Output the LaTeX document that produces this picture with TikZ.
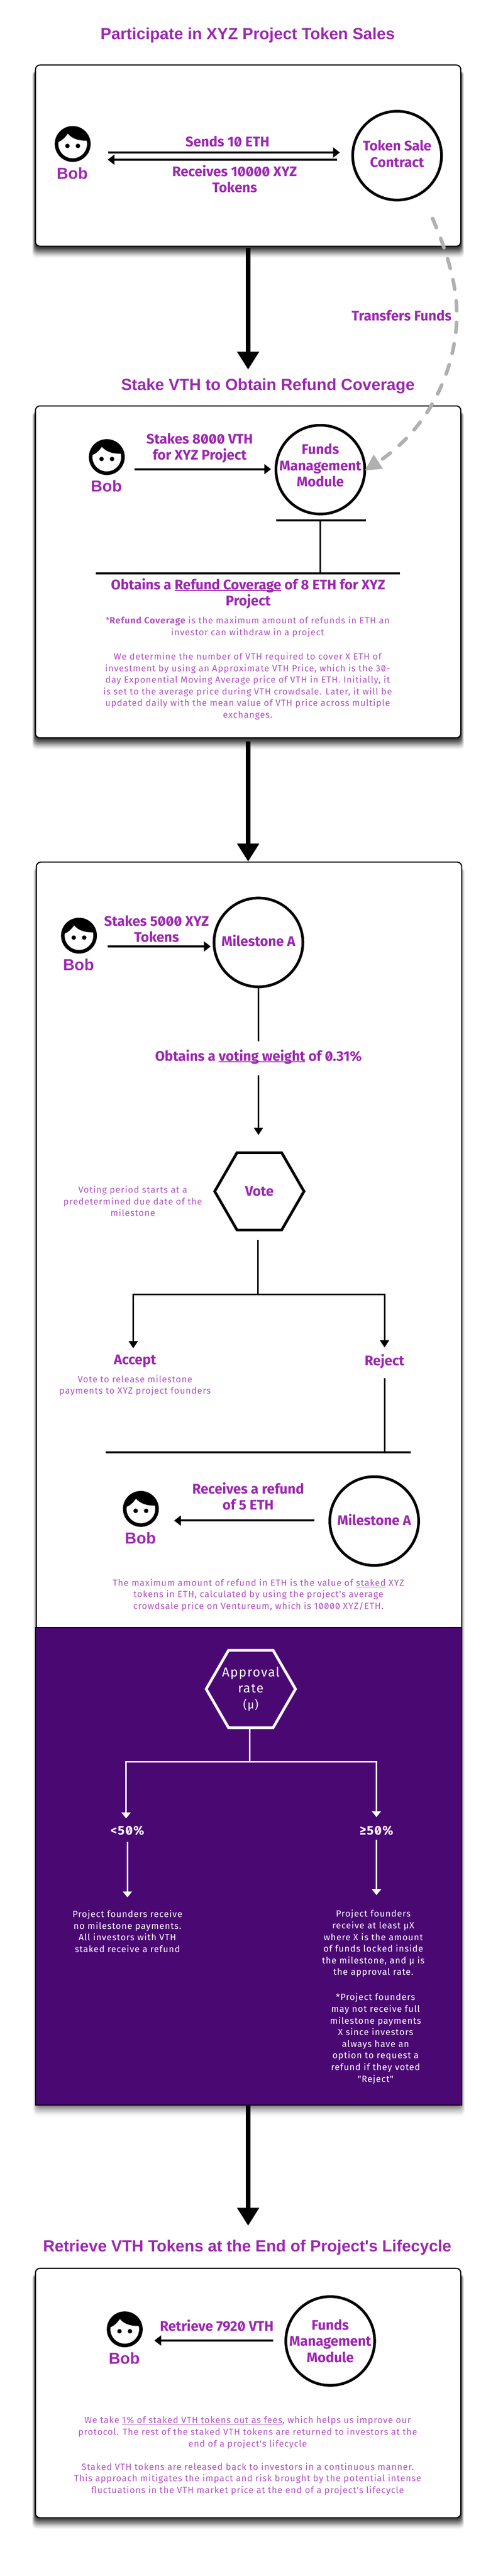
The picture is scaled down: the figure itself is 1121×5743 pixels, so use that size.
\documentclass[tikz,border=0pt]{standalone}
\usepackage{fontspec}
\setmainfont[Numbers=SlashedZero]{Fira Sans}
\newfontfamily\headfont{Liberation Sans}
\newfontfamily\notefont[LetterSpace=6,Numbers=SlashedZero]{Fira Sans}
\usetikzlibrary{calc,shapes.geometric,arrows.meta}

\definecolor{headpurple}{HTML}{9C27B0}
\definecolor{notepurple}{HTML}{B052C0}
\definecolor{panelpurple}{HTML}{4A0873}
\definecolor{flowgrey}{HTML}{B0B0B0}

%% soft shadow behind a box: x0, y0, x1, y1, opacity
\newcommand{\boxshadow}[5]{%
  \foreach \s [evaluate=\s as \shade using {#5*(17-\s)/8}] in {1,...,16}
  {
    \fill[black,opacity=\shade,rounded corners=10pt] ({#1-0.5*\s},{#2+12}) rectangle ({#3+0.5*\s},{#4+2+1.6*\s});
  }
}
%% underline with a rule of given depth and thickness
\newcommand{\barunder}[3]{\setbox0\hbox{#3}\rlap{\rule[-#1]{\wd0}{#2}}\box0\relax}

\begin{document}
\begin{tikzpicture}[x=1pt,y=-1pt,
    stagehead/.style={inner sep=0,text=headpurple,font=\headfont\bfseries\fontsize{36}{40}\selectfont},
    steplabel/.style={inner sep=0,align=center,text=headpurple,font=\bfseries\fontsize{31}{36}\selectfont},
    notetext/.style={inner sep=0,align=center,text=notepurple,font=\notefont\fontsize{20}{26}\selectfont},
    paneltext/.style={inner sep=0,align=center,text=white,font=\notefont\fontsize{20}{26}\selectfont},
    ratetext/.style={inner sep=0,align=center,text=white,font=\notefont\fontsize{29}{36}\selectfont},
    stagebox/.style={draw=black,fill=white,line width=2.5pt,rounded corners=10pt,inner sep=0},
    partycircle/.style={circle,draw=black,fill=white,line width=6pt,minimum size=198pt,inner sep=0},
    bobface/.style={circle,draw=black,fill=white,line width=8pt,minimum size=72pt,inner sep=0},
    votehex/.style={regular polygon,regular polygon sides=6,line width=6pt,minimum size=199pt,inner sep=0},
    bigarrow/.style={line width=9.5pt,-{Triangle[length=40pt,width=47pt]}},
    flowarrow/.style={line width=4.5pt,-{Triangle[length=15pt,width=22pt]}},
    thinarrow/.style={line width=3.5pt,-{Triangle[length=16pt,width=20pt]}},
    whitearrow/.style={draw=white,line width=3.5pt,-{Triangle[length=13pt,width=20pt]}}]

  \useasboundingbox (0,0) rectangle (1121,5743);

  %% Stage boxes
  \boxshadow{79}{145}{1027}{549}{0.08}
  \boxshadow{79}{905}{1027}{1645}{0.08}
  \boxshadow{81}{1922}{1029}{4693}{0.035}
  \boxshadow{79}{5057}{1027}{5612}{0.08}
  \node[stagebox,minimum width=948pt,minimum height=404pt] (saleBox) at (553,347) {};
  \node[stagebox,minimum width=948pt,minimum height=740pt] (stakeBox) at (553,1275) {};
  \node[stagebox,minimum width=948pt,minimum height=1760pt] (voteBox) at (555,2802) {};
  \node[draw=black,line width=2.5pt,fill=panelpurple,minimum width=950pt,minimum height=1065pt,inner sep=0] (ratePanel) at (554,4161) {};
  \node[stagebox,minimum width=948pt,minimum height=556pt] (retrieveBox) at (553,5335) {};

  %% Stage titles
  \node[stagehead] (saleTitle) at (552,79) {Participate in XYZ Project Token Sales};
  \node[stagehead] (stakeTitle) at (597,861) {Stake VTH to Obtain Refund Coverage};
  \node[stagehead] (retrieveTitle) at (551,5011) {Retrieve VTH Tokens at the End of Project's Lifecycle};

  %% Every Bob in the picture
  \foreach \n/\x/\y in {A/162/321,B/238/1019,C/176/2086,D/314/3364,E/278/5193}
  {
    \node[bobface] (bob\n) at (\x,\y) {};
    \fill[shift={(\x,\y)}] (-37,-3) .. controls (-31,-30) and (-14,-39) .. (0,-39)
      .. controls (16,-39) and (33,-28) .. (38,-8) .. controls (18,-6) and (0,-10) .. (-11,-23)
      .. controls (-17,-14) and (-25,-6) .. (-37,-3) -- cycle;
    \fill[shift={(\x,\y)}] (-11.7,4.3) circle (5pt) (11.7,4.3) circle (5pt);
    \node[inner sep=0,text=headpurple,font=\headfont\bfseries\fontsize{35.5}{36}\selectfont] (bobName\n) at ($(bob\n)+(-1,65)$) {Bob};
  }

  %% Token sale
  \node[partycircle,label={[steplabel,yshift=4pt]center:Token Sale\\Contract}] (tokenSale) at (885,347) {};
  \coordinate (sendFrom) at (241,340);
  \coordinate (backFrom) at (751,356);
  \draw[flowarrow,shorten >=25.5pt] (sendFrom) -- (sendFrom -| tokenSale.west);
  \draw[flowarrow,shorten >=38pt] (backFrom) -- (backFrom -| bobA.east);
  \node[steplabel] (sendLabel) at (507,315) {Sends 10 ETH};
  \node[steplabel] (backLabel) at (523,399) {Receives 10000 XYZ\\Tokens};
  \node[steplabel] (transferLabel) at (895,703) {Transfers Funds};

  %% Stake VTH
  \node[partycircle,label={[steplabel,yshift=9.5pt]center:Funds\\Management\\Module}] (fundsModule) at (714,1047) {};
  \coordinate (stakeFrom) at (300,1046);
  \draw[flowarrow,shorten >=8pt] (stakeFrom) -- (stakeFrom -| fundsModule.west);
  \node[steplabel] (stakeLabel) at (445,999) {Stakes 8000 VTH\\for XYZ Project};
  \coordinate (coverTop) at (714,1160);
  \coordinate (coverBottom) at (714,1278);
  \draw[line width=4.5pt] (616,1160) -- (coverTop) -- (815,1160);
  \draw[line width=3.5pt] (coverTop) -- (coverBottom);
  \draw[line width=4.5pt] (214,1278) -- (coverBottom) -- (891,1278);
  \node[steplabel] (coverLabel) at (553,1323) {Obtains a \barunder{3.5pt}{2.5pt}{Refund Coverage} of 8 ETH for XYZ\\Project};
  \node[notetext] (coverNote) at (552,1398) {*{\bfseries Refund Coverage} is the maximum amount of refunds in ETH an\\investor can withdraw in a project};
  \node[notetext] (priceNote) at (552,1530) {We determine the number of VTH required to cover X ETH of\\investment by using an Approximate VTH Price, which is the 30-\\day Exponential Moving Average price of VTH in ETH. Initially, it\\is set to the average price during VTH crowdsale. Later, it will be\\updated daily with the mean value of VTH price across multiple\\exchanges.};

  %% Milestone vote
  \node[partycircle,label={[steplabel,yshift=4pt]center:Milestone A}] (milestoneIn) at (576,2101) {};
  \coordinate (voteStake) at (240,2110);
  \draw[flowarrow,shorten >=4.5pt] (voteStake) -- (voteStake -| milestoneIn.west);
  \node[steplabel] (voteStakeLabel) at (349,2071) {Stakes 5000 XYZ\\Tokens};
  \node[steplabel] (weightLabel) at (576,2356) {Obtains a \barunder{3.5pt}{2.5pt}{voting weight} of 0.31\%};
  \draw[line width=3pt,shorten >=18pt] (milestoneIn.south) -- (milestoneIn.south |- weightLabel.north);
  \node[votehex,draw=black,text=headpurple,font=\bfseries\fontsize{31}{36}\selectfont] (vote) at (578,2656) {Vote};
  \draw[thinarrow,line width=3pt,shorten <=25pt,shorten >=36.5pt] (milestoneIn.south |- weightLabel.south) -- (milestoneIn.south |- vote.north);
  \node[notetext] (voteNote) at (296,2678) {Voting period starts at a\\predetermined due date of the\\milestone};

  \coordinate (voteSplit) at (575,2886);
  \draw[line width=3.5pt,shorten <=20pt] (voteSplit |- vote.south) -- (voteSplit);
  \node[steplabel] (accept) at (301,3035) {Accept};
  \node[steplabel] (reject) at (857,3035) {Reject};
  \coordinate (acceptIn) at (297,3006);
  \coordinate (rejectIn) at (857,3004);
  \draw[thinarrow] (voteSplit) -| (acceptIn);
  \draw[thinarrow] (voteSplit) -| (rejectIn);
  \node[notetext] (acceptNote) at (301,3089) {Vote to release milestone\\payments to XYZ project founders};

  \coordinate (refundBar) at (857,3238);
  \draw[line width=3.5pt,shorten <=21pt] (reject.south) -- (refundBar);
  \draw[line width=4.5pt] (236,3238) -- (refundBar) -- (915,3238);
  \node[partycircle,label={[steplabel,yshift=3pt]center:Milestone A}] (milestoneOut) at (834,3391) {};
  \coordinate (refundFrom) at (701,3390);
  \draw[flowarrow,shorten >=34pt] (refundFrom) -- (refundFrom -| bobD.east);
  \node[steplabel] (refundLabel) at (553,3336) {Receives a refund\\of 5 ETH};
  \node[notetext] (refundNote) at (576,3556) {The maximum amount of refund in ETH is the value of \barunder{3pt}{1.5pt}{staked} XYZ\\tokens in ETH, calculated by using the project's average\\crowdsale price on Ventureum, which is 10000 XYZ/ETH.};

  %% Approval rate panel
  \node[votehex,draw=white,label={[ratetext]center:Approval\\rate\\{\fontsize{25}{36}\selectfont (μ)}}] (approval) at (559,3765.5) {};
  \coordinate (rateSplit) at (557,3928);
  \draw[draw=white,line width=3.5pt] (rateSplit |- approval.south) -- (rateSplit);
  \coordinate (lowIn) at (281,4054);
  \coordinate (highIn) at (839,4051);
  \draw[whitearrow] (rateSplit) -| (lowIn);
  \draw[whitearrow] (rateSplit) -| (highIn);
  \node[inner sep=0,text=white,font=\notefont\bfseries\fontsize{28}{30}\selectfont] (lowRate) at (284,4081) {<50\%};
  \node[inner sep=0,text=white,font=\notefont\bfseries\fontsize{28}{30}\selectfont] (highRate) at (839,4081) {≥50\%};
  \coordinate (lowOut) at (284,4230);
  \coordinate (highOut) at (839,4225);
  \draw[whitearrow,shorten <=14pt] (lowRate.south -| lowOut) -- (lowOut);
  \draw[whitearrow,shorten <=10pt] (highRate.south -| highOut) -- (highOut);
  \node[paneltext] (lowNote) at (284,4306) {Project founders receive\\no milestone payments.\\All investors with VTH\\staked receive a refund};
  \node[paneltext] (highNote) at (832,4333) {Project founders\\receive at least μX\\where X is the amount\\of funds locked inside\\the milestone, and μ is\\the approval rate.};
  \node[paneltext] (highStar) at (837,4545) {*Project founders\\may not receive full\\milestone payments\\X since investors\\always have an\\option to request a\\refund if they voted\\"Reject"};

  %% Retrieve VTH
  \node[partycircle,label={[steplabel]center:Funds\\Management\\Module}] (fundsOut) at (736,5219) {};
  \coordinate (retrieveFrom) at (609,5218);
  \draw[flowarrow,shorten >=26pt] (retrieveFrom) -- (retrieveFrom -| bobE.east);
  \node[steplabel] (retrieveLabel) at (483,5185) {Retrieve 7920 VTH};
  \node[notetext] (feeNote) at (552,5423) {We take \barunder{3pt}{1.5pt}{1\% of staked VTH tokens out as fees}, which helps us improve our\\protocol. The rest of the staked VTH tokens are returned to investors at the\\end of a project's lifecycle};
  \node[notetext] (releaseNote) at (552,5527) {Staked VTH tokens are released back to investors in a continuous manner.\\This approach mitigates the impact and risk brought by the potential intense\\fluctuations in the VTH market price at the end of a project's lifecycle};

  %% Arrows between the stages
  \draw[bigarrow,shorten <=2pt,shorten >=20pt] (saleBox.south) -- (saleBox.south |- stakeTitle.north);
  \draw[bigarrow,shorten <=7pt] (stakeBox.south) -- (stakeBox.south |- voteBox.north);
  \draw[bigarrow,shorten >=32pt] (stakeBox.south |- ratePanel.south) -- (stakeBox.south |- retrieveTitle.north);

  %% Funds going from the sale to the module
  \coordinate (transferFrom) at (964,487);
  \draw[draw=flowgrey,line width=8pt,line cap=round,dash pattern=on 22pt off 26pt,shorten >=-3.5pt,-{Triangle[length=36pt,width=36pt,fill=flowgrey,line cap=butt]}]
    (transferFrom) .. controls (1000,570) and (1018,640) .. (1018,700)
    .. controls (1018,830) and (950,960) .. (fundsModule.east);
\end{tikzpicture}
\end{document}
